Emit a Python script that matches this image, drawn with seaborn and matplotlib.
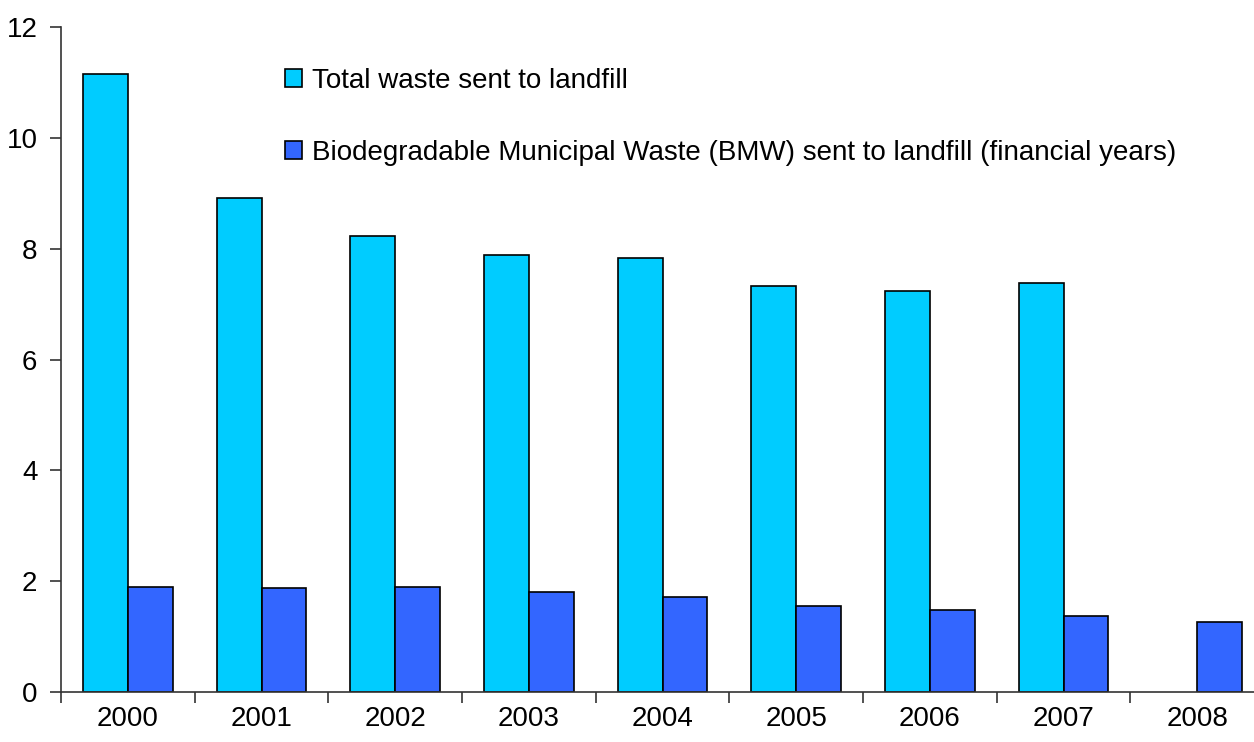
import matplotlib
matplotlib.use("Agg")
import matplotlib.pyplot as plt
import numpy as np
import pandas as pd
import seaborn as sns

years = ["2000", "2001", "2002", "2003", "2004", "2005", "2006", "2007", "2008"]
total_waste = [11.15, 8.92, 8.23, 7.89, 7.83, 7.33, 7.24, 7.38, np.nan]
bmw_waste = [1.90, 1.88, 1.90, 1.80, 1.72, 1.55, 1.48, 1.38, 1.26]
series = ["Total waste sent to landfill",
          "Biodegradable Municipal Waste (BMW) sent to landfill (financial years)"]
colors = ["#00CCFF", "#3366FF"]

df = pd.DataFrame({
    "year": years * 2,
    "value": total_waste + bmw_waste,
    "series": [series[0]] * len(years) + [series[1]] * len(years),
})

sns.set_style("white")
plt.rcParams["font.family"] = ["Liberation Sans", "DejaVu Sans"]
plt.rcParams["text.color"] = "black"
plt.rcParams["xtick.color"] = "black"
plt.rcParams["ytick.color"] = "black"

fig = plt.figure(figsize=(12.54, 7.42), dpi=100)
# axes runs slightly past the right edge, like the original
ax = fig.add_axes([61 / 1254, 50 / 742, 1203 / 1254, 665 / 742])

sns.barplot(data=df, x="year", y="value", hue="series", hue_order=series,
            palette=colors, width=0.67, edgecolor="black", linewidth=1.2,
            saturation=1, errorbar=None, ax=ax)

ax.set_xlim(-0.5, len(years) - 0.5)
ax.set_ylim(0, 12)
ax.set_yticks(range(0, 13, 2))
ax.set_xlabel("")
ax.set_ylabel("")

sns.despine(ax=ax)
for s in ["left", "bottom"]:
    ax.spines[s].set_color("#333333")
    ax.spines[s].set_linewidth(1.2)

ax.tick_params(axis="y", which="major", length=8, width=1.2, color="#333333",
               labelcolor="black", direction="out", labelsize=20, left=True, pad=9)
ax.tick_params(axis="x", which="major", length=0, labelsize=20, pad=10,
               labelcolor="black")
ax.set_xticks(np.arange(-0.5, len(years), 1.0), minor=True)
ax.tick_params(axis="x", which="minor", length=8, width=1.2, color="#333333",
               direction="out", bottom=True)

handles, labels = ax.get_legend_handles_labels()
leg = ax.legend(handles, labels, loc="upper left",
                bbox_to_anchor=(285 / 1254, 1 - 68 / 742), bbox_transform=fig.transFigure,
                frameon=False, fontsize=20, handlelength=0.6, handleheight=0.6,
                handletextpad=0.36, labelspacing=1.65, borderpad=0, borderaxespad=0)
for t in leg.get_texts():
    t.set_color("black")

fig.savefig("out.png", dpi=100)
